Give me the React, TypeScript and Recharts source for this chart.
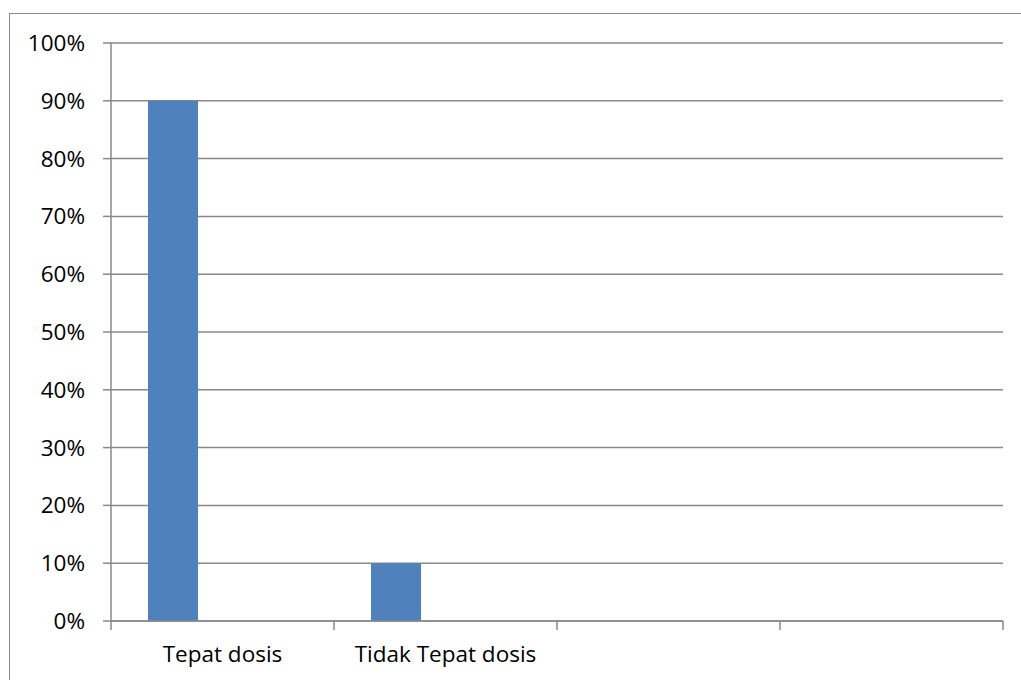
import React from "react";
import { BarChart, Bar, XAxis, YAxis, CartesianGrid } from "recharts";

const categories = ["Tepat dosis", "Tidak Tepat dosis", "", ""];
const series1 = [0.9, 0.1, null, null];
const series2 = [null, null, null, null];
const series3 = [null, null, null, null];
const yTicks = [0, 0.1, 0.2, 0.3, 0.4, 0.5, 0.6, 0.7, 0.8, 0.9, 1];

const data = categories.map((c, i) => ({
  name: c,
  s1: series1[i],
  s2: series2[i],
  s3: series3[i],
}));

const FONT = "'Open Sans', sans-serif";
const GRAY = "#888888";
const LABEL_GAP = 25;
const TICK_LEN = 9;

function CategoryTick(props: any) {
  const { x, y, payload, index } = props;
  const half = payload && typeof payload.offset === "number" ? payload.offset : 0;
  const axisY = y - LABEL_GAP;
  const isLast = index === categories.length - 1;
  return (
    <g>
      <line x1={x - half} x2={x - half} y1={axisY} y2={axisY + TICK_LEN} stroke={GRAY} strokeWidth={1.5} />
      {isLast && (
        <line x1={x + half} x2={x + half} y1={axisY} y2={axisY + TICK_LEN} stroke={GRAY} strokeWidth={1.5} />
      )}
      <text x={x} y={y} dy="0.71em" textAnchor="middle" fill="#000" fontSize={22.5} fontFamily={FONT}>
        {payload.value}
      </text>
    </g>
  );
}

export default function App() {
  return (
    <div style={{ position: "absolute", left: 0, top: 0, width: 1021, height: 680, overflow: "hidden", background: "#fff" }}>
      <div
        style={{
          position: "absolute",
          left: 9,
          top: 13,
          width: 1100,
          height: 800,
          border: `1.5px solid ${GRAY}`,
          boxSizing: "border-box",
        }}
      />
      <div style={{ position: "absolute", left: 0, top: 0 }}>
        <BarChart
          width={1021}
          height={680}
          data={data}
          margin={{ top: 43, right: 18, bottom: 0, left: 0 }}
          barCategoryGap={37}
          barGap={0}
        >
          <CartesianGrid vertical={false} stroke={GRAY} strokeWidth={1.5} />
          <XAxis
            dataKey="name"
            height={59}
            axisLine={{ stroke: GRAY, strokeWidth: 1.5 }}
            tickLine={false}
            tickSize={0}
            tickMargin={LABEL_GAP}
            interval={0}
            tick={<CategoryTick />}
          />
          <YAxis
            width={111}
            domain={[0, 1]}
            ticks={yTicks}
            interval={0}
            tickFormatter={(v: number) => `${Math.round(v * 100)}%`}
            axisLine={{ stroke: GRAY, strokeWidth: 1.5 }}
            tickLine={{ stroke: GRAY, strokeWidth: 1.5 }}
            tickSize={8}
            tickMargin={18}
            tick={{ fill: "#000", fontSize: 22.5, fontFamily: FONT }}
          />
          <Bar dataKey="s1" fill="#4F81BD" isAnimationActive={false} />
          <Bar dataKey="s2" fill="#C0504D" isAnimationActive={false} />
          <Bar dataKey="s3" fill="#9BBB59" isAnimationActive={false} />
        </BarChart>
      </div>
    </div>
  );
}
